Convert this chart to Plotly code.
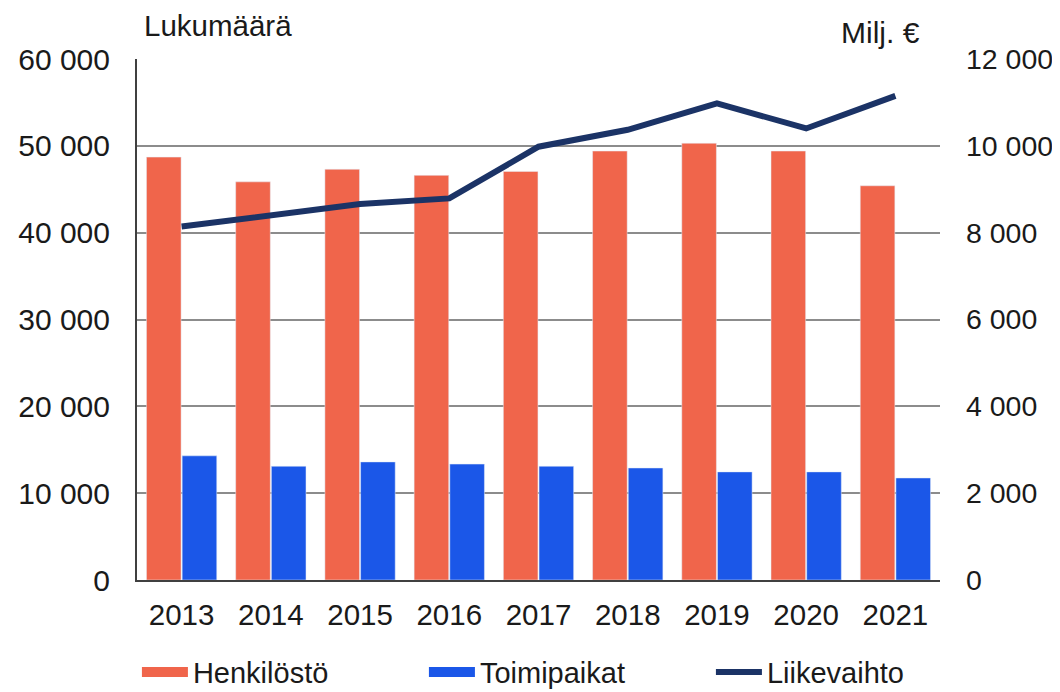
import plotly.graph_objects as go

years = ["2013", "2014", "2015", "2016", "2017", "2018", "2019", "2020", "2021"]
henkilosto = [48700, 45850, 47300, 46600, 47050, 49400, 50300, 49400, 45400]
toimipaikat = [14300, 13100, 13600, 13350, 13100, 12900, 12450, 12450, 11750]
liikevaihto = [8140, 8390, 8660, 8790, 9980, 10370, 10980, 10400, 11150]

red = "#F0654B"
blue = "#1B57E8"
navy = "#1B3366"
font = dict(family="Liberation Sans, Arial, sans-serif", size=29.5, color="#1a1a1a")

fig = go.Figure()
fig.add_trace(go.Bar(x=years, y=henkilosto, name="Henkilöstö", marker_color=red,
                     showlegend=False))
fig.add_trace(go.Bar(x=years, y=toimipaikat, name="Toimipaikat", marker_color=blue,
                     showlegend=False))
fig.add_trace(go.Scatter(x=years, y=liikevaihto, name="Liikevaihto", yaxis="y2",
                         mode="lines", line=dict(color=navy, width=6), showlegend=False))

# legend entries (wide swatches like the original)
for nm, col, w in [("Henkilöstö", red, 16), ("Toimipaikat", blue, 16), ("Liikevaihto", navy, 6)]:
    fig.add_trace(go.Scatter(x=[None], y=[None], name=nm, mode="lines",
                             line=dict(color=col, width=w)))

# page body has an 8px margin, so the figure is 8px smaller and shifted
fig.update_layout(
    width=1052, height=684,
    margin=dict(l=129, r=120, t=51, b=112, autoexpand=False),
    plot_bgcolor="white", paper_bgcolor="white",
    font=font,
    separators=", ",
    barmode="group", bargap=0.2, bargroupgap=0.03,
    showlegend=True,
    legend=dict(orientation="h", x=-0.0001, xanchor="left", y=-0.177, yanchor="middle",
                font=dict(size=29), entrywidth=226, entrywidthmode="pixels",
                itemwidth=46, traceorder="normal", bgcolor="rgba(0,0,0,0)"),
    xaxis=dict(showline=True, linecolor="#404040", linewidth=2, ticks="",
               ticklabelstandoff=8, automargin=False),
    yaxis=dict(range=[0, 60000], dtick=10000, tickformat=",d", showgrid=True,
               gridcolor="#8c8c8c", gridwidth=1.5, showline=True, linecolor="#404040",
               linewidth=2, zeroline=False, ticklabelstandoff=19, automargin=False,
               tickfont=dict(size=30)),
    yaxis2=dict(range=[0, 12000], dtick=2000, tickformat=",d", overlaying="y",
                side="right", showgrid=False, zeroline=False, ticklabelstandoff=25,
                automargin=False, tickfont=dict(size=28.5)),
    annotations=[
        dict(text="Lukumäärä", xref="paper", yref="paper", x=0.0, y=1.0, xanchor="left",
             yanchor="middle", yshift=34, xshift=5, showarrow=False, font=dict(size=29.5)),
        dict(text="Milj. €", xref="paper", yref="paper", x=0.978, y=1.0, xanchor="right",
             yanchor="middle", yshift=27, showarrow=False, font=dict(size=30)),
    ],
)

fig.write_html("out.html")
